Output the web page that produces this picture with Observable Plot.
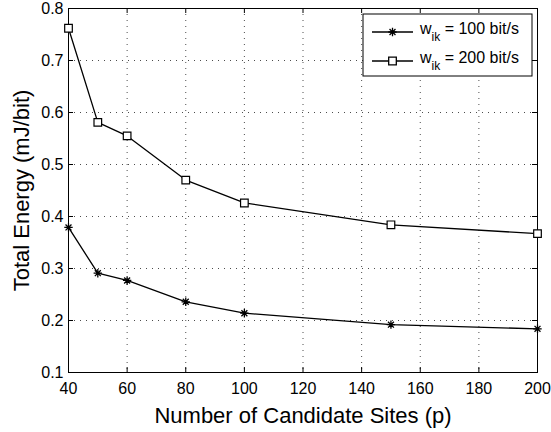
<!DOCTYPE html>
<html>
<head>
<meta charset="utf-8">
<script src="https://cdn.jsdelivr.net/npm/d3@7"></script>
<script src="https://cdn.jsdelivr.net/npm/@observablehq/plot@0.6"></script>
<style>
  html, body { margin: 0; padding: 0; background: white; }
</style>
</head>
<body>
<div id="chart"></div>
<script>
const sites = [40, 50, 60, 80, 100, 150, 200];
const energy100 = [0.379, 0.291, 0.277, 0.236, 0.214, 0.192, 0.184];
const energy200 = [0.762, 0.581, 0.555, 0.470, 0.426, 0.384, 0.367];
const seriesNames = ["100 bit/s", "200 bit/s"];
const xTicks = [40, 60, 80, 100, 120, 140, 160, 180, 200];
const yTicks = [0.1, 0.2, 0.3, 0.4, 0.5, 0.6, 0.7, 0.8];
const xLabel = "Number of Candidate Sites (p)";
const yLabel = "Total Energy (mJ/bit)";

const d100 = sites.map((p, i) => ({p, e: energy100[i]}));
const d200 = sites.map((p, i) => ({p, e: energy200[i]}));

// MATLAB-like 8-spoke asterisk
const asterisk8 = {
  draw(ctx, size) {
    const r = Math.sqrt(size / Math.PI);
    const d = r * Math.SQRT1_2;
    ctx.moveTo(-r, 0); ctx.lineTo(r, 0);
    ctx.moveTo(0, -r); ctx.lineTo(0, r);
    ctx.moveTo(-d, -d); ctx.lineTo(d, d);
    ctx.moveTo(-d, d); ctx.lineTo(d, -d);
  }
};

const W = 551, H = 432, mL = 68, mR = 14, mT = 8, mB = 60;
const innerW = W - mL - mR, innerH = H - mT - mB;
const tick = 5;
const font = "'Liberation Sans', Arial, Helvetica, sans-serif";

const chart = Plot.plot({
  width: W, height: H,
  marginLeft: mL, marginRight: mR, marginTop: mT, marginBottom: mB,
  style: {fontFamily: font, fontSize: "16px", background: "white", color: "black"},
  x: {domain: [40, 200], ticks: xTicks},
  y: {domain: [0.1, 0.8], ticks: yTicks},
  marks: [
    Plot.gridX(xTicks, {stroke: "#000", strokeOpacity: 0.7, strokeDasharray: "1,5", strokeWidth: 1}),
    Plot.gridY(yTicks, {stroke: "#000", strokeOpacity: 0.7, strokeDasharray: "1,5", strokeWidth: 1}),
    // inward ticks on all four sides
    Plot.tickX(xTicks, {x: d => d, insetTop: innerH - tick, stroke: "black"}),
    Plot.tickX(xTicks, {x: d => d, insetBottom: innerH - tick, stroke: "black"}),
    Plot.tickY(yTicks, {y: d => d, insetRight: innerW - tick, stroke: "black"}),
    Plot.tickY(yTicks, {y: d => d, insetLeft: innerW - tick, stroke: "black"}),
    Plot.axisX(xTicks, {tickSize: 0, tickPadding: 10, fontSize: 16, label: null, tickFormat: d3.format("d")}),
    Plot.axisY(yTicks, {tickSize: 0, tickPadding: 5, fontSize: 16, label: null, tickFormat: d3.format(".1f")}),
    Plot.text([xLabel], {frameAnchor: "bottom", text: d => d, dy: 50, lineAnchor: "bottom", textAnchor: "middle", fontSize: 22, fill: "black"}),
    Plot.text([yLabel], {frameAnchor: "left", text: d => d, dx: -40, rotate: -90, lineAnchor: "bottom", textAnchor: "middle", fontSize: 22, fill: "black"}),
    Plot.frame({stroke: "black", strokeWidth: 1}),
    Plot.line(d100, {x: "p", y: "e", stroke: "black", strokeWidth: 1.3}),
    Plot.line(d200, {x: "p", y: "e", stroke: "black", strokeWidth: 1.3}),
    Plot.dot(d100, {x: "p", y: "e", symbol: asterisk8, r: 4.2, stroke: "black", fill: "none", strokeWidth: 1.3}),
    Plot.dot(d200, {x: "p", y: "e", symbol: "square", r: 4.3, stroke: "black", fill: "white", strokeWidth: 1.2})
  ]
});

// Legend box (top-right, inside plot)
const svg = d3.select(chart);
const lg = svg.append("g").attr("font-family", font).attr("font-size", 16).attr("text-anchor", "start");
const bx = 363, by = 14, bw = 169, bh = 62;
lg.append("rect").attr("x", bx).attr("y", by).attr("width", bw).attr("height", bh)
  .attr("fill", "white").attr("stroke", "black").attr("stroke-width", 1);
const rows = [
  {y: by + 18, sym: asterisk8, fill: "none", name: seriesNames[0], r: 4.2},
  {y: by + 47, sym: d3.symbolSquare, fill: "white", name: seriesNames[1], r: 4.3}
];
rows.forEach(row => {
  lg.append("line").attr("x1", bx + 9).attr("x2", bx + 50).attr("y1", row.y).attr("y2", row.y)
    .attr("stroke", "black").attr("stroke-width", 1.3);
  lg.append("path").attr("d", d3.symbol(row.sym, row.r * row.r * Math.PI)())
    .attr("transform", `translate(${bx + 29.5},${row.y})`)
    .attr("stroke", "black").attr("fill", row.fill).attr("stroke-width", 1.3);
  const t = lg.append("text").attr("x", bx + 57).attr("y", row.y + 2).attr("fill", "black")
    .attr("text-anchor", "start");
  t.append("tspan").text("w");
  t.append("tspan").attr("font-size", 12).attr("dy", 7).text("ik");
  t.append("tspan").attr("dy", -7).text(" = " + row.name);
});

document.getElementById("chart").appendChild(chart);
</script>
</body>
</html>
